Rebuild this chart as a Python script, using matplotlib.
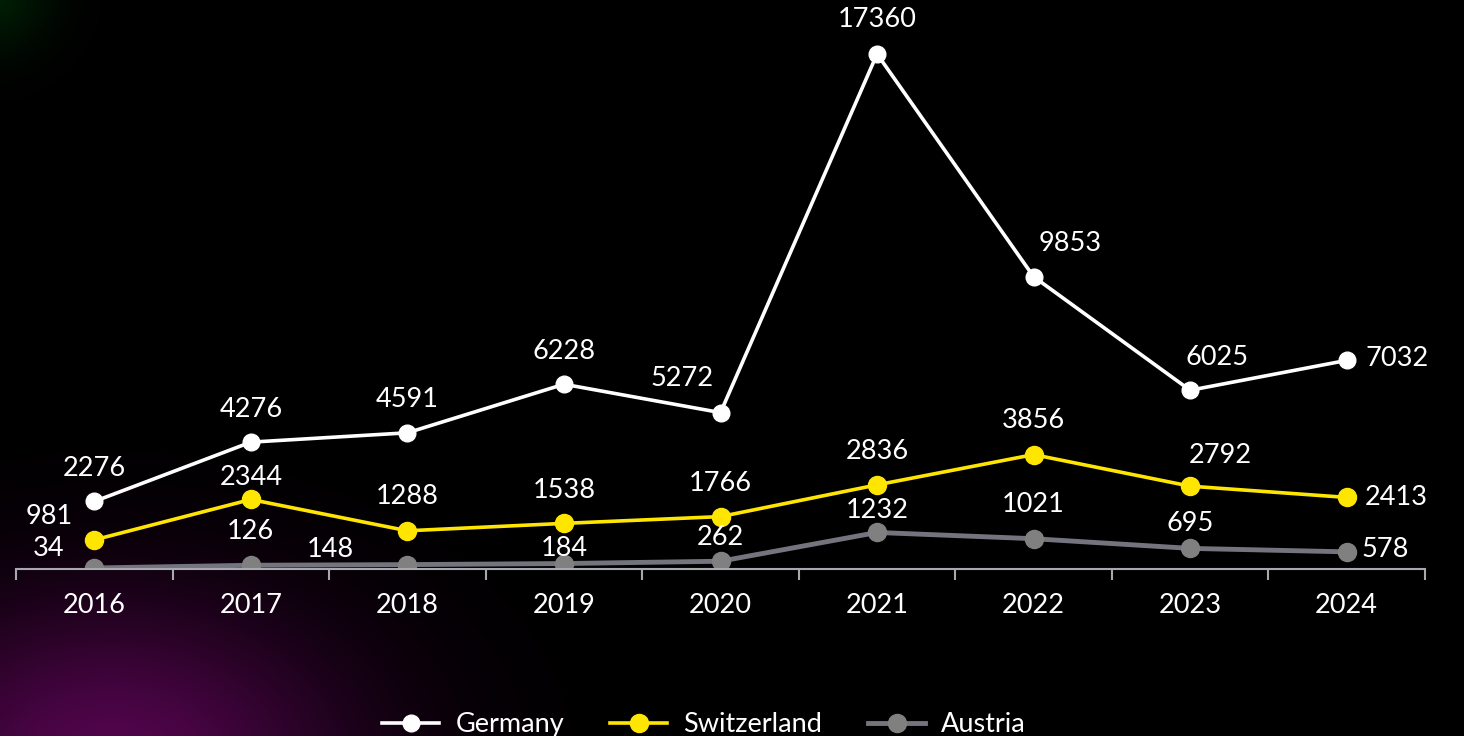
import matplotlib.pyplot as plt
import numpy as np

years = ['2016', '2017', '2018', '2019', '2020', '2021', '2022', '2023', '2024']
germany = [2276, 4276, 4591, 6228, 5272, 17360, 9853, 6025, 7032]
switzerland = [981, 2344, 1288, 1538, 1766, 2836, 3856, 2792, 2413]
austria = [34, 126, 148, 184, 262, 1232, 1021, 695, 578]

# label offsets in pixels (dx, dy) per point
off_de = [(0, 33), (0, 33), (0, 33), (0, 33), (-38, 34), (0, 34), (37, 33), (27, 33), (50, 2)]
off_ch = [(-45, 23), (0, 22), (0, 34), (0, 33), (0, 33), (0, 33), (0, 34), (30, 31), (50, 0)]
off_at = [(-46, 19), (0, 34), (-77, 15), (0, 15), (0, 24), (0, 22), (0, 34), (0, 25), (38, 2)]

plt.rcParams['font.family'] = ['Lato', 'DejaVu Sans']

fig = plt.figure(figsize=(14.64, 7.36), dpi=100)
fig.patch.set_facecolor('black')

# background glow
bg = fig.add_axes([0, 0, 1, 1], zorder=-10)
h, w = 368, 732
yy, xx = np.mgrid[0:h, 0:w]
px, py = xx * 2.0, yy * 2.0
glow = np.exp(-(((px - 110) / 240) ** 2 + ((py - 760) / 160) ** 2))
green = np.exp(-(((px + 10) / 60) ** 2 + ((py + 10) / 60) ** 2))
img = np.zeros((h, w, 3))
img[..., 0] = 0.32 * glow
img[..., 1] = 0.02 * glow + 0.12 * green
img[..., 2] = 0.30 * glow + 0.02 * green
bg.imshow(np.clip(img, 0, 1), aspect='auto', extent=[0, 1, 0, 1], origin='upper')
bg.axis('off')

ax = fig.add_axes([16 / 1464, 167 / 736, 1409 / 1464, 569 / 736])
ax.set_facecolor('none')
x = np.arange(len(years))

ax.plot(x, germany, color='white', lw=2.6, marker='o', ms=12, label='Germany', zorder=3)
ax.plot(x, switzerland, color='#FFE600', lw=2.6, marker='o', ms=13, label='Switzerland', zorder=3)
ax.plot(x, austria, color='#74747E', lw=3.5, marker='o', ms=13, mfc='#808080', mec='#808080',
        label='Austria', zorder=2)

for vals, offs in [(germany, off_de), (switzerland, off_ch), (austria, off_at)]:
    for xi, v, (dx, dy) in zip(x, vals, offs):
        ax.annotate(str(v), (xi, v), xytext=(dx * 0.72, dy * 0.72), textcoords='offset points',
                    ha='center', va='center', color='white', fontsize=19.5)

ax.set_xlim(-0.5, 8.5)
ax.set_ylim(0, 19180)
for s in ['top', 'right', 'left']:
    ax.spines[s].set_visible(False)
ax.spines['bottom'].set_color('#A8A8B0')
ax.spines['bottom'].set_linewidth(1.5)
ax.set_yticks([])
ax.set_xticks(x)
ax.set_xticklabels(years, color='white', fontsize=19.5)
ax.tick_params(axis='x', which='major', length=0, pad=17)
ax.set_xticks(np.arange(-0.5, 9, 1), minor=True)
ax.tick_params(axis='x', which='minor', length=8, width=1.5, color='#A8A8B0', direction='out')

leg = fig.legend(loc='lower center', bbox_to_anchor=(0.481, -0.035), ncol=3, frameon=False,
                 fontsize=19.5, labelcolor='white', handlelength=2.1, columnspacing=1.7,
                 handletextpad=0.6)

fig.savefig('out.png', dpi=100, facecolor='black')
